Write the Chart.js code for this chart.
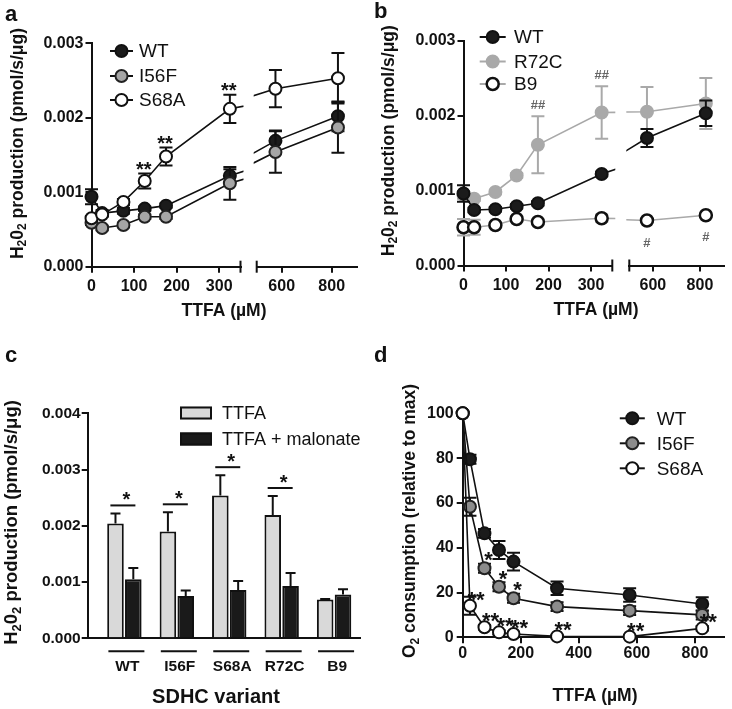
<!DOCTYPE html>
<html lang="en">
<head>
<meta charset="UTF-8">
<title>TTFA and SDHC variants</title>
<script src="https://cdn.jsdelivr.net/npm/chart.js"></script>
<style>
  body { margin: 0; background: #fff; }
  #fig { position: relative; width: 732px; height: 709px; }
  #fig canvas { position: absolute; left: 0; top: 0; }
</style>
</head>
<body>
<div id="fig">
  <canvas id="aLow" width="732" height="709"></canvas>
  <canvas id="aHigh" width="732" height="709"></canvas>
  <canvas id="bLow" width="732" height="709"></canvas>
  <canvas id="bHigh" width="732" height="709"></canvas>
  <canvas id="cBars" width="732" height="709"></canvas>
  <canvas id="dO2" width="732" height="709"></canvas>
</div>
<script>
const FONT = "'Liberation Sans', Arial, Helvetica, sans-serif";
const PW = 732, PH = 709;
const INK = '#111';

// shared x values and ticks
const ttfaDose = [0, 25, 75, 125, 175, 325, 575, 825];
const doseTicksLow = [0, 100, 200, 300];
const doseTicksHigh = [600, 800];
const doseTicksFull = [0, 200, 400, 600, 800];
const h2o2Ticks = [0, 0.001, 0.002, 0.003];
const barTicks = [0, 0.001, 0.002, 0.003, 0.004];
const o2Ticks = [0, 20, 40, 60, 80, 100];

// panel a
const seriesA = ['WT', 'I56F', 'S68A'];
const aWT      = [0.00094, 0.00072, 0.00075, 0.00078, 0.00082, 0.00122, 0.00169, 0.00202];
const aWTErr   = [0.00010, 0.00004, 0.00004, 0.00003, 0.00003, 0.00009, 0.00014, 0.00020];
const aI56F    = [0.00059, 0.00052, 0.00056, 0.00067, 0.00067, 0.00112, 0.00154, 0.00187];
const aI56FErr = [0.00003, 0.00003, 0.00003, 0.00003, 0.00003, 0.00022, 0.00028, 0.00034];
const aS68A    = [0.00065, 0.00070, 0.00087, 0.00115, 0.00148, 0.00212, 0.00239, 0.00253];
const aS68AErr = [0.00003, 0.00003, 0.00004, 0.00010, 0.00012, 0.00019, 0.00025, 0.00034];
const aS68ASig = ['', '', '', '**', '**', '**', '', ''];

// panel b
const seriesB = ['WT', 'R72C', 'B9'];
const bWT      = [0.00096, 0.00074, 0.00075, 0.00079, 0.00083, 0.00122, 0.00170, 0.00203];
const bWTErr   = [0.00011, 0.00003, 0.00003, 0.00003, 0.00003, 0.00003, 0.00012, 0.00017];
const bR72C    = [0.00094, 0.00089, 0.00098, 0.00120, 0.00161, 0.00204, 0.00205, 0.00216];
const bR72CErr = [0.00005, 0.00003, 0.00003, 0.00003, 0.00038, 0.00035, 0.00033, 0.00034];
const bR72CSig = ['', '', '', '', '##', '##', '', ''];
const bB9      = [0.00051, 0.00051, 0.00054, 0.00062, 0.00058, 0.00063, 0.00060, 0.00067];
const bB9Err   = [0.00011, 0.00010, 0.00003, 0.00003, 0.00003, 0.00005, 0.00002, 0.00002];
const bB9Sig   = ['', '', '', '', '', '', '#', '#'];

// panel c
const variants = ['WT', 'I56F', 'S68A', 'R72C', 'B9'];
const seriesC = ['TTFA', 'TTFA + malonate'];
const cTTFA        = [0.00204, 0.00190, 0.00254, 0.00219, 0.00069];
const cTTFAErr     = [0.00018, 0.00034, 0.00036, 0.00034, 0.00001];
const cMalonate    = [0.00105, 0.00075, 0.00086, 0.00093, 0.00078];
const cMalonateErr = [0.00020, 0.00010, 0.00016, 0.00023, 0.00009];
const cSig = ['*', '*', '*', '*', ''];

// panel d
const seriesD = ['WT', 'I56F', 'S68A'];
const dWT      = [100, 79.5, 46.4, 39.0, 33.8, 21.9, 18.9, 14.9];
const dWTErr   = [0, 2, 2, 4, 4, 3, 3, 3];
const dI56F    = [100, 58.3, 30.8, 22.6, 17.4, 13.7, 11.9, 10.0];
const dI56FErr = [0, 4, 2, 2, 2, 2, 2, 2];
const dI56FSig = ['', '', '*', '*', '*', '', '', ''];
const dS68A    = [100, 14.1, 4.5, 2.2, 1.5, 0.4, 0.3, 4.0];
const dS68AErr = [0, 4, 1, 1, 1, 0.5, 0.5, 1];
const dS68ASig = ['', '**', '**', '**', '**', '**', '**', '**'];

const doseTitle = 'TTFA (µM)';
const variantTitle = 'SDHC variant';
const h2o2Title = [['H', 0], ['2', 1], ['0', 0], ['2', 1], [' production (pmol/s/μg)', 0]];
const o2Title = [['O', 0], ['2', 1], [' consumption (relative to max)', 0]];

// marker looks
const markWT    = { fill: '#1b1b1b', stroke: INK, line: INK };
const markI56F  = { fill: '#a6a6a6', stroke: '#222', line: INK };
const markS68A  = { fill: '#fff', stroke: INK, line: INK };
const markR72C  = { fill: '#a9a9a9', stroke: '#a9a9a9', line: '#a9a9a9', err: '#a9a9a9' };
const markB9    = { fill: '#fff', stroke: INK, line: '#a9a9a9', err: '#a9a9a9', bw: 2.5 };
const markI56Fd = { fill: '#8c8c8c', stroke: '#222', line: INK };

const clipLow = { left: 12, right: 3, top: 12, bottom: 12 };
const clipHigh = { left: 3, right: 12, top: 12, bottom: 12 };
const clipFull = { left: 12, right: 12, top: 12, bottom: 12 };

function lineSet(label, vals, err, mark, order, clip, extra) {
  return Object.assign({
    label, order, clip, err, errColor: mark.err || INK,
    data: ttfaDose.map((x, i) => ({ x, y: vals[i] })),
    borderColor: mark.line, borderWidth: 1.6, tension: 0, fill: false,
    pointRadius: 6, pointHoverRadius: 6, pointBorderWidth: mark.bw || 2,
    pointBackgroundColor: mark.fill, pointBorderColor: mark.stroke
  }, extra || {});
}

function axis(o) {
  return {
    type: 'linear', display: o.display !== false, min: o.min, max: o.max, offset: false,
    afterBuildTicks: s => { s.ticks = o.ticks.map(v => ({ value: v })); },
    grid: { display: true, drawOnChartArea: false, drawTicks: o.drawTicks !== false, tickLength: 6,
            color: INK, lineWidth: 2, offset: false },
    border: { display: true, color: INK, width: 2 },
    ticks: { color: INK, font: { family: FONT, size: o.font, weight: 'bold' }, padding: o.pad,
             callback: o.fmt || (v => String(v)), labelOffset: o.labelOffset || 0,
             maxRotation: 0, autoSkip: false }
  };
}

function drawErrors(chart, index) {
  const ds = chart.data.datasets[index];
  if (!ds.err) return;
  const meta = chart.getDatasetMeta(index);
  const ctx = chart.ctx, a = chart.chartArea, ys = chart.scales.y;
  const hw = ds.errCap || 6.5;
  ctx.save();
  ctx.beginPath();
  ctx.rect(a.left - 10, 0, a.right - a.left + 20, PH);
  ctx.clip();
  ctx.strokeStyle = ds.errColor || INK;
  ctx.lineWidth = 2;
  meta.data.forEach((el, i) => {
    const e = ds.err[i];
    if (!e || el.x < a.left - 2 || el.x > a.right + 2) return;
    const v = ds.data[i].y;
    const yTop = ys.getPixelForValue(v + e);
    const yBot = ds.errUpOnly ? el.y : ys.getPixelForValue(v - e);
    ctx.beginPath();
    ctx.moveTo(el.x, yTop); ctx.lineTo(el.x, yBot);
    ctx.moveTo(el.x - hw, yTop); ctx.lineTo(el.x + hw, yTop);
    if (!ds.errUpOnly) { ctx.moveTo(el.x - hw, yBot); ctx.lineTo(el.x + hw, yBot); }
    ctx.stroke();
  });
  ctx.restore();
}

function drawSig(chart) {
  const ctx = chart.ctx, a = chart.chartArea, ys = chart.scales.y;
  chart.data.datasets.forEach((ds, di) => {
    if (!ds.sig) return;
    const meta = chart.getDatasetMeta(di);
    ctx.save();
    ctx.font = ds.sigFont;
    ctx.fillStyle = ds.sigColor || INK;
    ctx.textAlign = 'center';
    ctx.textBaseline = 'alphabetic';
    meta.data.forEach((el, i) => {
      const s = ds.sig[i];
      if (!s || el.x < a.left - 2 || el.x > a.right + 2) return;
      const e = ds.err ? ds.err[i] : 0;
      const y = ds.sigAnchor === 'point' ? el.y : ys.getPixelForValue(ds.data[i].y + e);
      ctx.fillText(s, el.x + (ds.sigDx || 0), y + (ds.sigDy || 0));
    });
    ctx.restore();
  });
}

function drawPairSig(chart, sig) {
  const ctx = chart.ctx, ys = chart.scales.y;
  const d0 = chart.data.datasets[0], d1 = chart.data.datasets[1];
  const m0 = chart.getDatasetMeta(0), m1 = chart.getDatasetMeta(1);
  ctx.save();
  ctx.strokeStyle = INK; ctx.fillStyle = INK; ctx.lineWidth = 2;
  ctx.font = `bold 20px ${FONT}`; ctx.textAlign = 'center'; ctx.textBaseline = 'alphabetic';
  sig.forEach((s, i) => {
    if (!s) return;
    const top = Math.min(ys.getPixelForValue(d0.data[i].y + d0.err[i]),
                         ys.getPixelForValue(d1.data[i].y + d1.err[i])) - 8;
    const gc = (m0.data[i].x + m1.data[i].x) / 2;
    ctx.beginPath(); ctx.moveTo(gc - 14, top); ctx.lineTo(gc + 11, top); ctx.stroke();
    ctx.fillText(s, gc + 2, top + 1);
  });
  ctx.restore();
}

function drawVTitle(ctx, t) {
  ctx.save();
  ctx.translate(t.cx, t.cy);
  ctx.rotate(-Math.PI / 2);
  ctx.fillStyle = INK; ctx.textAlign = 'left'; ctx.textBaseline = 'alphabetic';
  const big = `bold ${t.size}px ${FONT}`, small = `bold ${Math.round(t.size * 0.68)}px ${FONT}`;
  let w = 0;
  t.parts.forEach(([s, sub]) => { ctx.font = sub ? small : big; w += ctx.measureText(s).width; });
  let x = -w / 2;
  const base = t.size * 0.36;
  t.parts.forEach(([s, sub]) => {
    ctx.font = sub ? small : big;
    ctx.fillText(s, x, base + (sub ? t.size * 0.22 : 0));
    x += ctx.measureText(s).width;
  });
  ctx.restore();
}

function drawLegend(ctx, lg) {
  lg.items.forEach((it, k) => {
    const y = lg.ys[k];
    ctx.strokeStyle = it.line; ctx.lineWidth = 2;
    ctx.beginPath(); ctx.moveTo(lg.x - lg.half, y); ctx.lineTo(lg.x + lg.half, y); ctx.stroke();
    ctx.beginPath(); ctx.arc(lg.x, y, 6, 0, 2 * Math.PI);
    ctx.fillStyle = it.fill; ctx.fill();
    ctx.lineWidth = it.bw || 2; ctx.strokeStyle = it.stroke; ctx.stroke();
    ctx.fillStyle = INK; ctx.font = `${lg.size}px ${FONT}`;
    ctx.textAlign = 'left'; ctx.textBaseline = 'middle';
    ctx.fillText(it.text, lg.textX, y + 1);
  });
}

function drawBoxLegend(ctx, lg) {
  lg.items.forEach((it, k) => {
    const y = lg.ys[k];
    ctx.fillStyle = it.fill;
    ctx.fillRect(lg.x, y - lg.h / 2, lg.w, lg.h);
    ctx.strokeStyle = INK; ctx.lineWidth = 2;
    ctx.strokeRect(lg.x + 1, y - lg.h / 2 + 1, lg.w - 2, lg.h - 2);
    ctx.fillStyle = INK; ctx.font = `${lg.size}px ${FONT}`;
    ctx.textAlign = 'left'; ctx.textBaseline = 'middle';
    ctx.fillText(it.text, lg.textX, y + 1);
  });
}

function decor(spec) {
  return {
    id: 'decor',
    beforeDatasetDraw(chart, args) { drawErrors(chart, args.index); },
    afterDatasetsDraw(chart) {
      drawSig(chart);
      if (spec.pairSig) drawPairSig(chart, spec.pairSig);
    },
    afterDraw(chart) {
      const ctx = chart.ctx, a = chart.chartArea;
      ctx.save();
      ctx.strokeStyle = INK; ctx.lineWidth = 2;
      if (spec.cap) {
        const x = spec.cap === 'right' ? a.right : a.left;
        ctx.beginPath(); ctx.moveTo(x, a.bottom - 6); ctx.lineTo(x, a.bottom + 6); ctx.stroke();
      }
      if (spec.groupLines) {
        const xs = chart.scales.x;
        spec.groupLines.forEach((_, i) => {
          const gc = xs.getPixelForValue(i);
          ctx.beginPath(); ctx.moveTo(gc - 16, a.bottom + 13); ctx.lineTo(gc + 20, a.bottom + 13); ctx.stroke();
        });
      }
      if (spec.label) {
        ctx.fillStyle = INK; ctx.font = `bold 22px ${FONT}`;
        ctx.textAlign = 'left'; ctx.textBaseline = 'alphabetic';
        ctx.fillText(spec.label[0], spec.label[1], spec.label[2]);
      }
      if (spec.yTitle) drawVTitle(ctx, spec.yTitle);
      if (spec.xTitle) {
        const t = spec.xTitle;
        ctx.fillStyle = INK; ctx.font = `bold ${t.size}px ${FONT}`;
        ctx.textAlign = 'center'; ctx.textBaseline = 'alphabetic';
        ctx.fillText(t.text, t.cx, t.base);
      }
      if (spec.legend) drawLegend(ctx, spec.legend);
      if (spec.boxLegend) drawBoxLegend(ctx, spec.boxLegend);
      ctx.restore();
    }
  };
}

function plot(id, type, area, datasets, xAxis, yAxis, yW, xH, spec) {
  const padding = { left: area.l - yW, top: area.t, right: PW - area.r, bottom: PH - area.b - xH };
  xAxis.afterFit = s => { s.height = xH; };
  yAxis.afterFit = s => { s.width = yW; };
  return new Chart(document.getElementById(id), {
    type,
    data: { datasets },
    options: {
      responsive: false, animation: false, events: [],
      layout: { padding },
      plugins: { legend: { display: false }, tooltip: { enabled: false }, title: { display: false } },
      scales: { x: xAxis, y: yAxis }
    },
    plugins: [decor(spec)]
  });
}

const fmt3 = v => v.toFixed(3);

// ----- panel a -----
function setsA(clip) {
  return [
    lineSet(seriesA[0], aWT, aWTErr, markWT, 3, clip),
    lineSet(seriesA[1], aI56F, aI56FErr, markI56F, 2, clip),
    lineSet(seriesA[2], aS68A, aS68AErr, markS68A, 1, clip,
      { sig: aS68ASig, sigFont: `bold 20px ${FONT}`, sigDx: -1, sigDy: 2 })
  ];
}
const legendA = {
  x: 121.5, half: 11.5, textX: 139, ys: [51, 76, 100], size: 19,
  items: [
    { text: seriesA[0], ...markWT },
    { text: seriesA[1], ...markI56F },
    { text: seriesA[2], ...markS68A }
  ]
};
plot('aLow', 'line', { l: 91.5, r: 240.5, t: 43.3, b: 266.7 }, setsA(clipLow),
  axis({ min: 0, max: 350, ticks: doseTicksLow, font: 16, pad: 4 }),
  axis({ min: 0, max: 0.003, ticks: h2o2Ticks, font: 16, pad: 2, fmt: fmt3 }), 70, 40,
  { cap: 'right', label: ['a', 5, 21],
    yTitle: { parts: h2o2Title, cx: 16.3, cy: 143.5, size: 17.5 },
    xTitle: { text: doseTitle, cx: 224, base: 316, size: 17.5 },
    legend: legendA });
plot('aHigh', 'line', { l: 256.7, r: 356.7, t: 43.3, b: 266.7 }, setsA(clipHigh),
  axis({ min: 500, max: 900, ticks: doseTicksHigh, font: 16, pad: 4 }),
  axis({ min: 0, max: 0.003, ticks: h2o2Ticks, font: 16, pad: 2, fmt: fmt3, display: false }), 0, 40,
  { cap: 'left' });

// ----- panel b -----
function setsB(clip) {
  return [
    lineSet(seriesB[0], bWT, bWTErr, markWT, 1, clip),
    lineSet(seriesB[1], bR72C, bR72CErr, markR72C, 2, clip,
      { sig: bR72CSig, sigFont: `bold 13px ${FONT}`, sigColor: '#666', sigDy: -7.5 }),
    lineSet(seriesB[2], bB9, bB9Err, markB9, 3, clip,
      { sig: bB9Sig, sigFont: `bold 13px ${FONT}`, sigColor: '#666', sigAnchor: 'point', sigDy: 26 })
  ];
}
const legendB = {
  x: 492.7, half: 13, textX: 514, ys: [37, 61.5, 84], size: 19,
  items: [
    { text: seriesB[0], ...markWT },
    { text: seriesB[1], ...markR72C },
    { text: seriesB[2], ...markB9 }
  ]
};
plot('bLow', 'line', { l: 463.5, r: 612.3, t: 40.5, b: 265.5 }, setsB(clipLow),
  axis({ min: 0, max: 350, ticks: doseTicksLow, font: 16, pad: 4 }),
  axis({ min: 0, max: 0.003, ticks: h2o2Ticks, font: 16, pad: 2, fmt: fmt3 }), 70, 40,
  { cap: 'right', label: ['b', 374, 18],
    yTitle: { parts: h2o2Title, cx: 387.3, cy: 140.7, size: 17.5 },
    xTitle: { text: doseTitle, cx: 596, base: 314.5, size: 17.5 },
    legend: legendB });
plot('bHigh', 'line', { l: 629.3, r: 729.3, t: 40.5, b: 265.5 }, setsB(clipHigh),
  axis({ min: 500, max: 900, ticks: doseTicksHigh, font: 16, pad: 4 }),
  axis({ min: 0, max: 0.003, ticks: h2o2Ticks, font: 16, pad: 2, fmt: fmt3, display: false }), 0, 40,
  { cap: 'left' });

// ----- panel c -----
const barX = axis({ min: -0.7, max: 4.5, ticks: variants.map((_, i) => i), font: 15.5, pad: 19,
  drawTicks: false, labelOffset: 3, fmt: v => variants[v] });
plot('cBars', 'bar', { l: 87.7, r: 360.3, t: 413.3, b: 638.3 }, [
    { label: seriesC[0], data: variants.map((_, i) => ({ x: i, y: cTTFA[i] })),
      err: cTTFAErr, errUpOnly: true, errCap: 5,
      backgroundColor: '#d9d9d9', borderColor: INK, borderWidth: 2,
      categoryPercentage: 0.68, barPercentage: 0.93 },
    { label: seriesC[1], data: variants.map((_, i) => ({ x: i, y: cMalonate[i] })),
      err: cMalonateErr, errUpOnly: true, errCap: 5,
      backgroundColor: '#1a1a1a', borderColor: INK, borderWidth: 2,
      categoryPercentage: 0.68, barPercentage: 0.93 }
  ], barX,
  axis({ min: 0, max: 0.004, ticks: barTicks, font: 15.5, pad: 1, fmt: fmt3 }), 70, 40,
  { label: ['c', 5, 362], pairSig: cSig, groupLines: variants,
    yTitle: { parts: h2o2Title, cx: 10.2, cy: 522.5, size: 18.5 },
    xTitle: { text: variantTitle, cx: 216, base: 703, size: 20 },
    boxLegend: { x: 180, w: 32, h: 13, textX: 222, ys: [413, 439], size: 18,
      items: [{ text: seriesC[0], fill: '#d9d9d9' }, { text: seriesC[1], fill: '#1a1a1a' }] } });

// ----- panel d -----
const legendD = {
  x: 632.3, half: 12.5, textX: 656.7, ys: [418.3, 443.3, 468.3], size: 19,
  items: [
    { text: seriesD[0], ...markWT },
    { text: seriesD[1], ...markI56Fd },
    { text: seriesD[2], ...markS68A }
  ]
};
plot('dO2', 'line', { l: 462.7, r: 725.2, t: 413.3, b: 637.3 }, [
    lineSet(seriesD[0], dWT, dWTErr, markWT, 3, clipFull),
    lineSet(seriesD[1], dI56F, dI56FErr, markI56Fd, 2, clipFull,
      { sig: dI56FSig, sigFont: `bold 22px ${FONT}`, sigAnchor: 'point', sigDx: 4, sigDy: -1 }),
    lineSet(seriesD[2], dS68A, dS68AErr, markS68A, 1, clipFull,
      { sig: dS68ASig, sigFont: `bold 22px ${FONT}`, sigAnchor: 'point', sigDx: 6, sigDy: 1 })
  ],
  axis({ min: 0, max: 900, ticks: doseTicksFull, font: 16, pad: 1 }),
  axis({ min: 0, max: 100, ticks: o2Ticks, font: 16, pad: 3 }), 70, 40,
  { label: ['d', 374, 362],
    yTitle: { parts: o2Title, cx: 409.1, cy: 521, size: 17.5 },
    xTitle: { text: doseTitle, cx: 595, base: 701, size: 17.5 },
    legend: legendD });
</script>
</body>
</html>
